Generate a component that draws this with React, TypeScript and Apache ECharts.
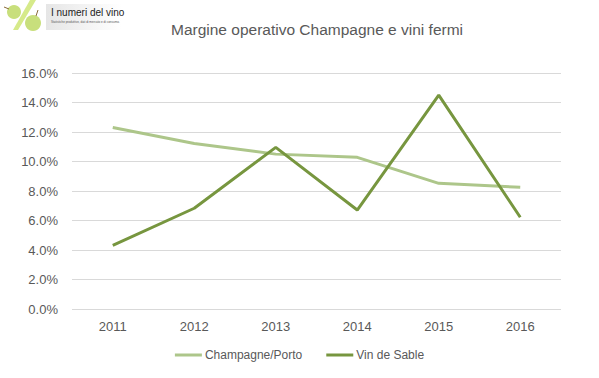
import React, { useEffect, useRef } from "react";
import * as echarts from "echarts";

const years = ["2011", "2012", "2013", "2014", "2015", "2016"];
const champagnePorto = [12.3, 11.22, 10.5, 10.28, 8.52, 8.25];
const vinDeSable = [4.32, 6.83, 10.96, 6.71, 14.5, 6.22];
const seriesNames = ["Champagne/Porto", "Vin de Sable"];
const title = "Margine operativo Champagne e vini fermi";

export default function App() {
  const ref = useRef<HTMLDivElement>(null);
  useEffect(() => {
    const chart = echarts.init(ref.current!, null, { renderer: "svg" });
    const font = "Liberation Sans";
    chart.setOption({
      animation: false,
      title: {
        text: title,
        left: 312,
        top: 16,
        textAlign: "center",
        textStyle: { fontSize: 15.5, fontWeight: "normal", color: "#595959", fontFamily: font },
      },
      graphic: [
        {
          type: "rect",
          shape: { x: 46, y: 4, width: 75, height: 26 },
          style: {
            fill: new echarts.graphic.LinearGradient(0, 0, 1, 0, [
              { offset: 0, color: "#e6e6e6" },
              { offset: 1, color: "#ffffff" },
            ]),
          },
        },
        { type: "polygon", shape: { points: [[30, 0], [36, 0], [18, 30], [13, 30]] }, style: { fill: "#d6ea8a" } },
        { type: "circle", shape: { cx: 14, cy: 12, r: 7 }, style: { fill: "#c8df7c" } },
        { type: "circle", shape: { cx: 33, cy: 23, r: 8 }, style: { fill: "#c8df7c" } },
        { type: "line", shape: { x1: 4, y1: 7, x2: 9, y2: 9 }, style: { stroke: "#8a6a3a", lineWidth: 1 } },
        { type: "line", shape: { x1: 38, y1: 10, x2: 36, y2: 16 }, style: { stroke: "#8a6a3a", lineWidth: 1 } },
        {
          type: "text",
          x: 51,
          y: 7,
          style: { text: "I numeri del vino", fontSize: 10, fill: "#222", fontFamily: font },
        },
        {
          type: "text",
          x: 51,
          y: 20,
          style: { text: "Statistiche produttive, dati di mercato e di consumo.", fontSize: 3, fill: "#555", fontFamily: font },
        },
      ],
      legend: {
        bottom: 12,
        left: "center",
        itemWidth: 27,
        itemHeight: 3,
        itemGap: 24,
        icon: "rect",
        textStyle: { fontSize: 12, color: "#595959", fontFamily: font, padding: [0, 0, 0, -2] },
        data: seriesNames,
      },
      grid: { left: 72, right: 38, top: 73, bottom: 69, containLabel: false },
      xAxis: {
        type: "category",
        data: years,
        boundaryGap: true,
        axisLine: { show: false },
        axisTick: { show: false },
        axisLabel: { fontSize: 13, color: "#595959", fontFamily: font, margin: 11 },
      },
      yAxis: {
        type: "value",
        min: 0,
        max: 16,
        interval: 2,
        axisLine: { show: false },
        axisTick: { show: false },
        splitLine: { lineStyle: { color: "#d9d9d9", width: 1 } },
        axisLabel: {
          fontSize: 13,
          color: "#595959",
          fontFamily: font,
          margin: 14,
          formatter: (v: number) => v.toFixed(1) + "%",
        },
      },
      series: [
        {
          name: seriesNames[0],
          type: "line",
          data: champagnePorto,
          symbol: "none",
          lineStyle: { color: "#adc68a", width: 3 },
          itemStyle: { color: "#adc68a" },
        },
        {
          name: seriesNames[1],
          type: "line",
          data: vinDeSable,
          symbol: "none",
          lineStyle: { color: "#77963f", width: 3 },
          itemStyle: { color: "#77963f" },
        },
      ],
    });
    return () => chart.dispose();
  }, []);
  return <div ref={ref} style={{ width: 599, height: 378, position: "absolute", left: 0, top: 0 }} />;
}
